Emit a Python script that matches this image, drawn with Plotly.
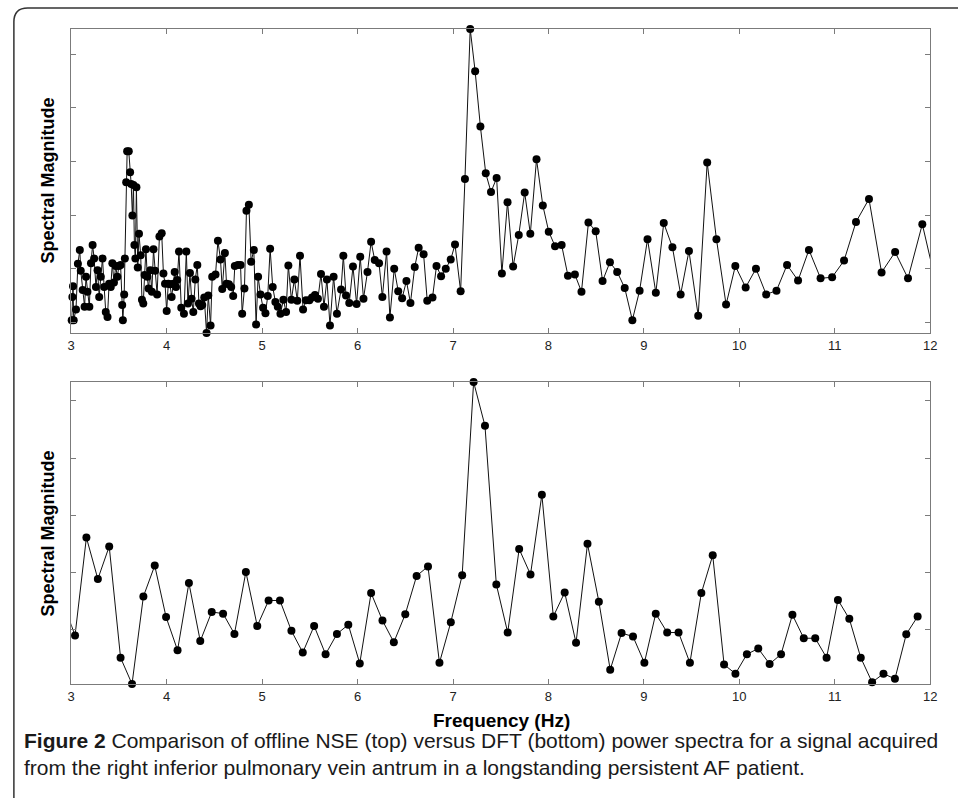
"""NSE vs DFT power spectra, two stacked panels with a caption box."""

import numpy as np
import plotly.graph_objects as go

# ---- top panel: offline NSE spectrum (frequency in Hz, magnitude in tick units)
nse_freq = [
    3.005, 3.012, 3.019, 3.026, 3.05, 3.07, 3.09, 3.10, 3.12, 3.14, 3.155, 3.17,
    3.19, 3.207, 3.224, 3.24, 3.259, 3.276, 3.293, 3.31, 3.328, 3.345, 3.362, 3.38,
    3.397, 3.414, 3.431, 3.448, 3.466, 3.483, 3.50, 3.517, 3.534, 3.541, 3.555, 3.562,
    3.576, 3.586, 3.603, 3.617, 3.628, 3.641, 3.652, 3.662, 3.672, 3.683, 3.697, 3.710,
    3.728, 3.741, 3.755, 3.769, 3.783, 3.797, 3.81, 3.828, 3.845, 3.862, 3.879, 3.90,
    3.924, 3.948, 3.966, 3.983, 4.0, 4.017, 4.035, 4.052, 4.07, 4.084, 4.098, 4.111,
    4.129, 4.153, 4.181, 4.206, 4.223, 4.244, 4.261, 4.279, 4.300, 4.321, 4.338, 4.355,
    4.373, 4.394, 4.418, 4.436, 4.460, 4.477, 4.512, 4.537, 4.564, 4.582, 4.610, 4.627,
    4.652, 4.676, 4.697, 4.714, 4.746, 4.774, 4.791, 4.815, 4.836, 4.861, 4.885, 4.913,
    4.937, 4.958, 4.983, 5.010, 5.035, 5.059, 5.084, 5.111, 5.139, 5.164, 5.192, 5.223,
    5.251, 5.275, 5.307, 5.338, 5.369, 5.397, 5.429, 5.460, 5.495, 5.523, 5.554, 5.585,
    5.617, 5.648, 5.679, 5.711, 5.749, 5.784, 5.827, 5.851, 5.879, 5.913, 5.952, 5.990,
    6.028, 6.062, 6.104, 6.142, 6.180, 6.225, 6.260, 6.304, 6.339, 6.384, 6.426, 6.467,
    6.512, 6.554, 6.599, 6.640, 6.692, 6.730, 6.785, 6.827, 6.875, 6.924, 6.976, 7.021,
    7.080, 7.125, 7.180, 7.232, 7.287, 7.343, 7.398, 7.457, 7.512, 7.571, 7.630, 7.689,
    7.751, 7.810, 7.875, 7.941, 8.003, 8.069, 8.138, 8.204, 8.277, 8.346, 8.419, 8.495,
    8.567, 8.644, 8.720, 8.799, 8.879, 8.955, 9.038, 9.125, 9.208, 9.299, 9.385, 9.472,
    9.569, 9.663, 9.760, 9.861, 9.958, 10.066, 10.174, 10.281, 10.389, 10.500, 10.615, 10.729,
    10.851, 10.972, 11.097, 11.222, 11.358, 11.490, 11.632, 11.767, 11.917, 12.07,
]
nse_mag = [
    0.04, 0.47, 0.67, 0.04, 0.24, 1.09, 1.35, 0.96, 0.60, 0.29, 0.85, 0.57,
    0.29, 1.10, 1.44, 1.19, 0.66, 0.97, 0.47, 0.85, 1.19, 0.66, 0.19, 0.10,
    0.72, 0.66, 1.10, 0.74, 1.05, 0.85, 1.05, 1.07, 0.32, 0.04, 0.52, 1.19,
    2.61, 3.19, 3.19, 2.80, 2.58, 1.99, 2.56, 1.44, 1.19, 2.52, 1.02, 1.65,
    1.25, 0.42, 0.35, 0.88, 1.36, 0.85, 0.63, 0.97, 0.57, 1.36, 0.96, 0.52,
    1.60, 1.66, 0.91, 0.72, 0.21, 0.72, 0.71, 0.47, 0.72, 0.94, 0.66, 0.79,
    1.32, 0.27, 0.16, 1.32, 0.35, 0.92, 0.44, 0.19, 0.80, 1.07, 0.35, 0.30,
    0.32, 0.46, -0.20, 0.50, -0.06, 0.85, 0.89, 1.52, 1.17, 0.62, 1.29, 0.72,
    0.71, 0.66, 0.49, 1.05, 1.07, 1.07, 0.16, 0.63, 2.08, 2.19, 1.13, 1.35,
    -0.04, 0.85, 0.52, 0.27, 0.17, 0.49, 1.37, 0.66, 0.38, 0.29, 0.16, 0.42,
    0.19, 1.06, 0.42, 0.80, 0.40, 1.24, 0.24, 0.41, 0.41, 0.46, 0.51, 0.44,
    0.90, 0.29, 0.80, -0.06, 0.85, 0.16, 0.61, 1.24, 0.50, 0.36, 1.04, 0.34,
    1.22, 0.44, 0.94, 1.50, 1.16, 1.10, 0.47, 1.32, 0.09, 1.00, 0.58, 0.45,
    0.77, 0.36, 1.03, 1.39, 1.27, 0.40, 0.46, 1.05, 0.86, 1.00, 1.17, 1.45,
    0.58, 2.67, 5.47, 4.68, 3.65, 2.78, 2.43, 2.69, 0.91, 2.24, 1.04, 1.63,
    2.42, 1.65, 3.04, 2.18, 1.69, 1.42, 1.44, 0.87, 0.89, 0.57, 1.86, 1.70,
    0.77, 1.12, 0.94, 0.64, 0.04, 0.59, 1.55, 0.55, 1.85, 1.40, 0.52, 1.33,
    0.12, 2.98, 1.55, 0.33, 1.05, 0.65, 1.00, 0.52, 0.59, 1.07, 0.78, 1.35,
    0.82, 0.84, 1.15, 1.87, 2.30, 0.93, 1.31, 0.82, 1.83, 0.65,
]

# ---- bottom panel: DFT spectrum
dft_freq = [
    2.921, 3.040, 3.159, 3.279, 3.398, 3.517, 3.637, 3.756, 3.875, 3.994, 4.114,
    4.233, 4.352, 4.472, 4.591, 4.710, 4.830, 4.949, 5.068, 5.187, 5.307, 5.426,
    5.545, 5.665, 5.784, 5.903, 6.023, 6.142, 6.261, 6.380, 6.500, 6.619, 6.738,
    6.858, 6.977, 7.096, 7.216, 7.335, 7.454, 7.573, 7.693, 7.812, 7.931, 8.051,
    8.170, 8.289, 8.409, 8.528, 8.647, 8.766, 8.886, 9.005, 9.124, 9.244, 9.363,
    9.482, 9.602, 9.721, 9.840, 9.959, 10.079, 10.198, 10.317, 10.437, 10.556, 10.675,
    10.795, 10.914, 11.033, 11.152, 11.272, 11.391, 11.510, 11.630, 11.749, 11.868,
]
dft_mag = [
    0.44, -0.10, 1.61, 0.885, 1.455, -0.49, -0.95, 0.58, 1.12, 0.22, -0.36,
    0.815, -0.20, 0.31, 0.28, -0.075, 1.01, 0.065, 0.51, 0.51, -0.02, -0.40,
    0.065, -0.43, -0.075, 0.087, -0.59, 0.64, 0.16, -0.22, 0.27, 0.94, 1.105,
    -0.58, 0.13, 0.95, 4.33, 3.565, 0.79, -0.05, 1.41, 0.965, 2.36, 0.23,
    0.65, -0.23, 1.50, 0.49, -0.70, -0.06, -0.12, -0.58, 0.28, -0.05, -0.05,
    -0.58, 0.64, 1.30, -0.61, -0.77, -0.43, -0.33, -0.60, -0.43, 0.26, -0.15,
    -0.15, -0.49, 0.52, 0.19, -0.49, -0.92, -0.77, -0.86, -0.08, 0.23,
]

freq_ticks = [3, 4, 5, 6, 7, 8, 9, 10, 11, 12]

W, H = 958, 798
AXIS_GREY = "#7b7b7b"
FONT = "Liberation Sans, Arial, sans-serif"


def px_x(x):
    return x / W


def px_y(y):
    return 1 - y / H


def add_spectrum(fig, freq, mag, xa, ya):
    freq = np.asarray(freq)
    mag = np.asarray(mag)
    # line keeps the out-of-range neighbours so it runs to the frame edge
    fig.add_trace(go.Scatter(
        x=freq, y=mag, mode="lines", xaxis=xa, yaxis=ya,
        line=dict(color="#111111", width=1), hoverinfo="skip",
    ))
    keep = (freq >= 3) & (freq <= 12)
    fig.add_trace(go.Scatter(
        x=freq[keep], y=mag[keep], mode="markers", xaxis=xa, yaxis=ya,
        marker=dict(color="black", size=8, line=dict(width=0)),
        cliponaxis=False,
    ))


fig = go.Figure()
add_spectrum(fig, nse_freq, nse_mag, "x", "y")
add_spectrum(fig, dft_freq, dft_mag, "x2", "y2")

xcommon = dict(
    range=[3, 12], tickvals=freq_ticks, ticks="inside", ticklen=5,
    tickcolor=AXIS_GREY, showline=True, linecolor=AXIS_GREY, linewidth=1,
    mirror="ticks", showgrid=False, zeroline=False,
    tickfont=dict(family=FONT, size=13, color="#222222"),
    domain=[px_x(68), px_x(937)],
)
ycommon = dict(
    ticks="inside", ticklen=5, tickcolor=AXIS_GREY, showline=True,
    linecolor=AXIS_GREY, linewidth=1, mirror="ticks", showgrid=False,
    zeroline=False, showticklabels=False,
)

fig.update_layout(
    width=W, height=H,
    paper_bgcolor="white", plot_bgcolor="white",
    margin=dict(l=0, r=0, t=0, b=0),
    showlegend=False,
    xaxis=dict(**xcommon, anchor="y"),
    yaxis=dict(**ycommon, range=[-0.20, 5.47], tickvals=[0, 1, 2, 3, 4, 5],
               domain=[px_y(333), px_y(29)], anchor="x"),
    xaxis2=dict(**xcommon, anchor="y2"),
    yaxis2=dict(**ycommon, range=[-0.95, 4.33], tickvals=[0, 1, 2, 3, 4],
                domain=[px_y(684), px_y(382)], anchor="x2"),
)

for yc in (180, 533):
    fig.add_annotation(x=px_x(45), y=px_y(yc), xref="paper", yref="paper",
                       xanchor="center", yanchor="middle",
                       text="<b>Spectral Magnitude</b>", textangle=-90,
                       showarrow=False,
                       font=dict(family=FONT, size=18, color="black"))
fig.add_annotation(x=px_x(503), y=px_y(720), xref="paper", yref="paper",
                   xanchor="center", yanchor="middle",
                   text="<b>Frequency (Hz)</b>", showarrow=False,
                   font=dict(family=FONT, size=19, color="black"))

caption = (
    "<b>Figure 2</b> Comparison of offline NSE (top) versus DFT (bottom) power spectra "
    "for a signal acquired<br>from the right inferior pulmonary vein antrum in a "
    "longstanding persistent AF patient."
)
fig.add_annotation(x=px_x(18), y=px_y(727), xref="paper", yref="paper",
                   xanchor="left", yanchor="top", align="left",
                   text=caption, showarrow=False,
                   font=dict(family=FONT, size=21, color="#1a1a1a"))

# caption box: rounded top-left corner, runs off the right and bottom edges
fig.add_shape(
    type="path", xref="paper", yref="paper",
    path=(f"M {px_x(10)},{px_y(830)} L {px_x(10)},{px_y(22)} "
          f"Q {px_x(10)},{px_y(8)} {px_x(24)},{px_y(8)} L {px_x(990)},{px_y(8)}"),
    line=dict(color="#333333", width=1.5),
)

# page body has a default 8px margin; drop it so the figure sits at the origin
fig.write_html(
    "out.html",
    config={"displayModeBar": False},
    post_script="document.body.style.margin='0';document.body.style.overflow='hidden';",
)
